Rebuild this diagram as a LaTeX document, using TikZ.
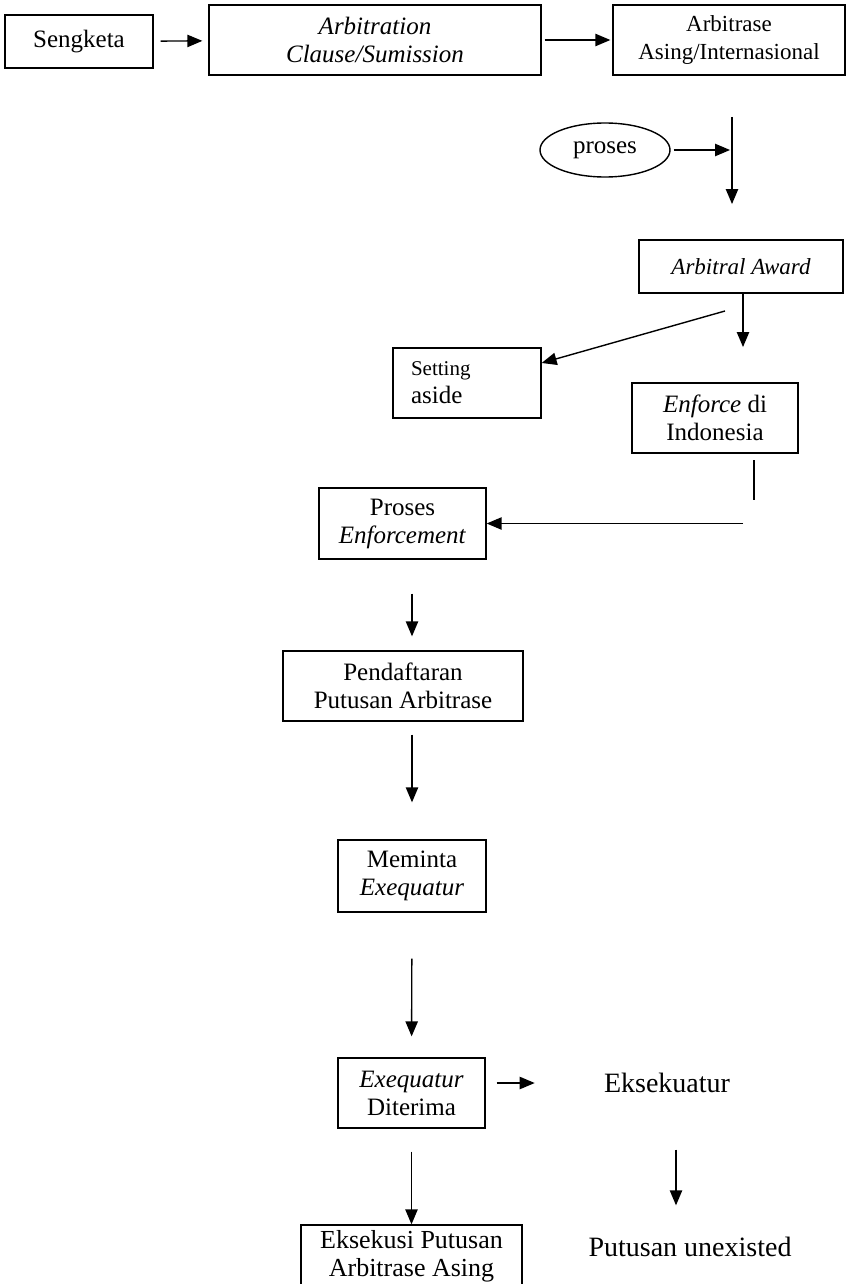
\documentclass[tikz,border=0pt]{standalone}
\usepackage{fontspec}
\setmainfont{Liberation Serif}
\usetikzlibrary{arrows,shapes.geometric}

\begin{document}
\begin{tikzpicture}[x=0.5pt,y=-0.5pt,->,>=triangle 45,line width=0.7pt,
	main node/.style={rectangle,draw,align=center,inner sep=1pt,font=\fontsize{12.5}{14}\selectfont},
	plain node/.style={font=\fontsize{14}{16}\selectfont}]
	\useasboundingbox (0,0) rectangle (847,1284);

	\node[main node,minimum width=74pt,minimum height=26.5pt] (sengketa) at (79,41.5) {Sengketa};
	\node[main node,minimum width=166pt,minimum height=35pt] (clause) at (375,40) {\textit{Arbitration}\\\textit{Clause/Sumission}};
	\node[main node,minimum width=116pt,minimum height=35pt,font=\fontsize{11.5}{14}\selectfont] (arbitrase) at (729,40) {Arbitrase\\Asing/Internasional};
	\node[main node,ellipse,minimum width=65pt,minimum height=27pt] (proses) at (605,150) {proses};
	\node[main node,minimum width=102pt,minimum height=26.5pt,font=\fontsize{11.5}{14}\itshape] (award) at (741,266.5) {Arbitral Award};
	\node[main node,minimum height=35pt,text width=56pt,inner xsep=9pt,align=left] (setting) at (467,383) {{\fontsize{10.5}{14}\selectfont Setting}\\aside};
	\node[main node,minimum width=83pt,minimum height=35pt] (enforce) at (715,418) {\textit{Enforce} di\\Indonesia};
	\node[main node,minimum width=83.5pt,minimum height=35.5pt] (prosesenf) at (402.5,523.5) {Proses\\\textit{Enforcement}};
	\node[main node,minimum width=120pt,minimum height=35pt] (daftar) at (403,686) {Pendaftaran\\Putusan Arbitrase};
	\node[main node,minimum width=74pt,minimum height=36pt] (meminta) at (412,876) {Meminta\\\textit{Exequatur}};
	\node[main node,minimum width=73.5pt,minimum height=35pt] (exeq) at (411.5,1093) {\textit{Exequatur}\\Diterima};
	\node[main node,minimum width=110.5pt,minimum height=31pt,font=\fontsize{13}{14}\selectfont] (eksekusi) at (411.5,1256) {Eksekusi Putusan\\Arbitrase Asing};
	\node[plain node] (eksekuatur) at (667,1083) {Eksekuatur};
	\node[plain node] (unexisted) at (690,1246.5) {Putusan unexisted};

	\coordinate (vtop) at (732,117);
	\coordinate (vbot) at (732,204);
	\coordinate (awtip) at (743,347);
	\coordinate (diag) at (725,311);
	\coordinate (etop) at (754,460);
	\coordinate (ebot) at (754,500);
	\coordinate (hz) at (743,523.5);
	\coordinate (rcol) at (676,0);

	\path
	(sengketa) edge[shorten <=3.5pt,shorten >=3pt] (clause)
	(clause) edge[shorten <=1.5pt,shorten >=1pt] (arbitrase)
	(vtop) edge (vbot)
	(proses) edge[shorten <=1.5pt,shorten >=1pt] (proses -| vtop)
	(award.south -| awtip) edge (awtip)
	(diag) edge (setting.15)
	(etop) edge[-] (ebot)
	(hz) edge (prosesenf.east)
	(prosesenf.south -| meminta) edge[shorten <=17pt,shorten >=7pt] (daftar.north -| meminta)
	(daftar.south -| meminta) edge[shorten <=6.5pt,shorten >=18.5pt] (meminta)
	(meminta) edge[shorten <=23pt,shorten >=10.5pt] (exeq)
	(exeq.east |- eksekuatur) edge[shorten <=5.5pt,shorten >=31pt] (eksekuatur)
	(exeq) edge[shorten <=11.5pt] (eksekusi)
	(eksekuatur.south -| rcol) edge[shorten <=24.7pt,shorten >=12pt] (unexisted.north -| rcol);
\end{tikzpicture}
\end{document}
